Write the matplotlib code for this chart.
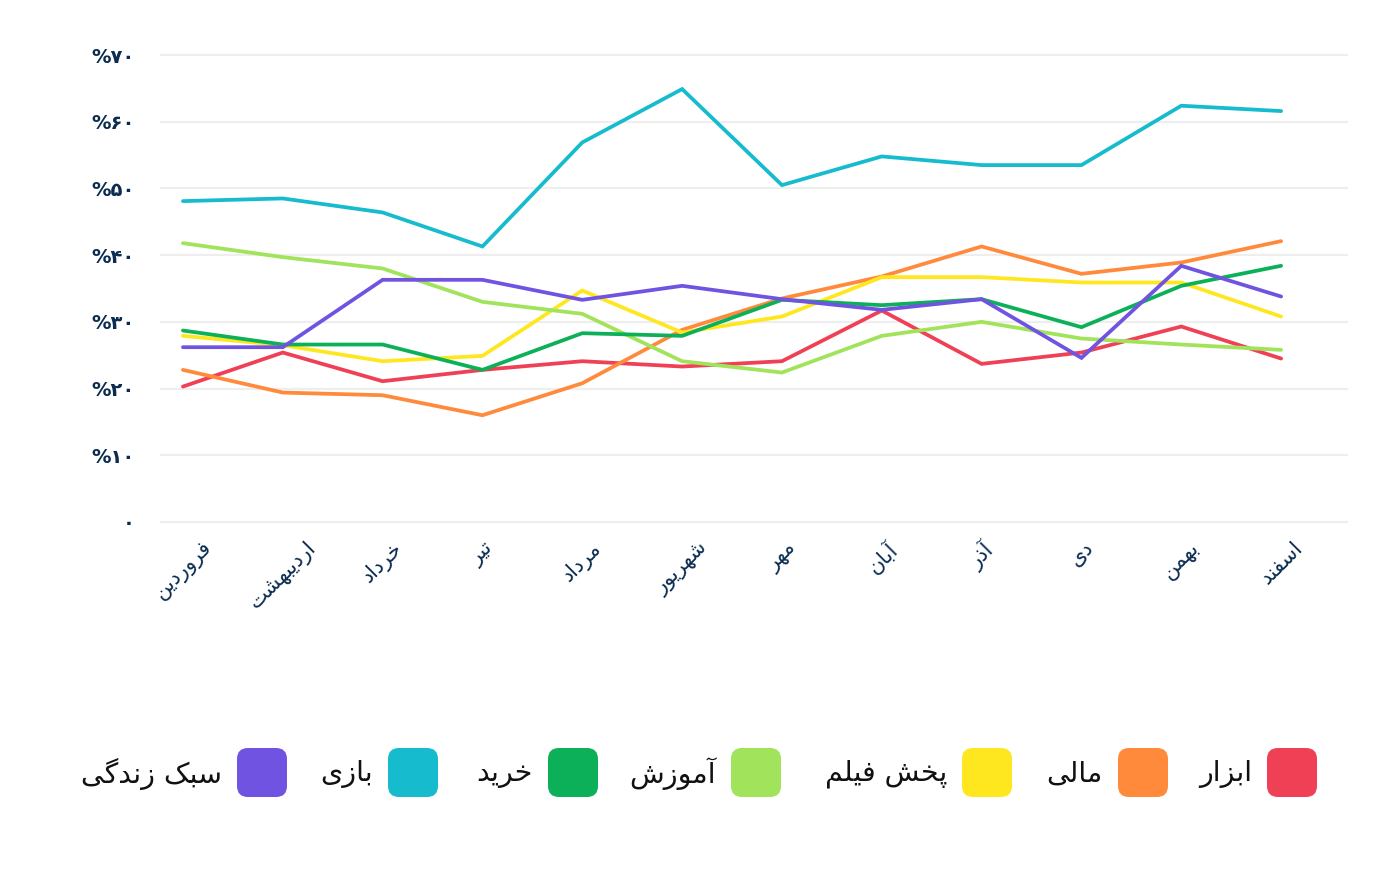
# %%
# =============================================================================
# Imports
# =============================================================================
import matplotlib
matplotlib.use("Agg")
import matplotlib.pyplot as plt
from matplotlib.patches import FancyBboxPatch

# %%
# =============================================================================
# Données
# =============================================================================
months = ['فروردین', 'اردیبهشت', 'خرداد', 'تیر', 'مرداد', 'شهریور',
          'مهر', 'آبان', 'آذر', 'دی', 'بهمن', 'اسفند']

y_ticks = [0, 10, 20, 30, 40, 50, 60, 70]
y_labels = ['۰', '%۱۰', '%۲۰', '%۳۰', '%۴۰', '%۵۰', '%۶۰', '%۷۰']

series_names = ['ابزار', 'مالی', 'پخش فیلم', 'آموزش', 'خرید', 'بازی', 'سبک زندگی']

abzar = [20.3, 25.4, 21.1, 22.8, 24.1, 23.3, 24.1, 31.7, 23.7, 25.4, 29.3, 24.5]
mali = [22.8, 19.4, 19.0, 16.0, 20.8, 28.8, 33.5, 36.8, 41.3, 37.2, 38.9, 42.1]
pakhsh_film = [27.9, 26.5, 24.1, 24.9, 34.7, 28.4, 30.8, 36.7, 36.7, 35.9, 35.9, 30.8]
amoozesh = [41.8, 39.7, 38.0, 33.0, 31.2, 24.1, 22.4, 27.9, 30.0, 27.5, 26.6, 25.8]
kharid = [28.7, 26.6, 26.6, 22.8, 28.3, 27.9, 33.3, 32.5, 33.4, 29.2, 35.4, 38.4]
bazi = [48.1, 48.5, 46.4, 41.3, 56.9, 64.9, 50.5, 54.8, 53.5, 53.5, 62.4, 61.6]
sabk_zendegi = [26.2, 26.2, 36.3, 36.3, 33.3, 35.4, 33.4, 31.8, 33.4, 24.6, 38.4, 33.8]

values = [abzar, mali, pakhsh_film, amoozesh, kharid, bazi, sabk_zendegi]
colors = ['#EF4056', '#FF8A3C', '#FFE71F', '#A1E35B', '#0CB058', '#16BBCE', '#7053E1']

# %%
# =============================================================================
# Mise en forme du texte persan (formes contextuelles + ordre droite-gauche)
# =============================================================================
FORMS = {
    'ا': ('\uFE8D', '\uFE8E'),
    'آ': ('\uFE81', '\uFE82'),
    'ب': ('\uFE8F', '\uFE90', '\uFE91', '\uFE92'),
    'پ': ('\uFB56', '\uFB57', '\uFB58', '\uFB59'),
    'ت': ('\uFE95', '\uFE96', '\uFE97', '\uFE98'),
    'خ': ('\uFEA5', '\uFEA6', '\uFEA7', '\uFEA8'),
    'د': ('\uFEA9', '\uFEAA'),
    'ذ': ('\uFEAB', '\uFEAC'),
    'ر': ('\uFEAD', '\uFEAE'),
    'ز': ('\uFEAF', '\uFEB0'),
    'س': ('\uFEB1', '\uFEB2', '\uFEB3', '\uFEB4'),
    'ش': ('\uFEB5', '\uFEB6', '\uFEB7', '\uFEB8'),
    'ف': ('\uFED1', '\uFED2', '\uFED3', '\uFED4'),
    'ک': ('\uFB8E', '\uFB8F', '\uFB90', '\uFB91'),
    'گ': ('\uFB92', '\uFB93', '\uFB94', '\uFB95'),
    'ل': ('\uFEDD', '\uFEDE', '\uFEDF', '\uFEE0'),
    'م': ('\uFEE1', '\uFEE2', '\uFEE3', '\uFEE4'),
    'ن': ('\uFEE5', '\uFEE6', '\uFEE7', '\uFEE8'),
    'ه': ('\uFEE9', '\uFEEA', '\uFEEB', '\uFEEC'),
    'و': ('\uFEED', '\uFEEE'),
    'ی': ('\uFBFC', '\uFBFD', '\uFBFE', '\uFBFF'),
}


def fa(text):
    out = []
    for i, ch in enumerate(text):
        if ch not in FORMS:
            out.append(ch)
            continue
        prev_join = i > 0 and len(FORMS.get(text[i - 1], ())) == 4
        next_join = (len(FORMS[ch]) == 4 and i + 1 < len(text)
                     and text[i + 1] in FORMS)
        f = FORMS[ch]
        if prev_join and next_join:
            out.append(f[3])
        elif prev_join:
            out.append(f[1])
        elif next_join:
            out.append(f[2])
        else:
            out.append(f[0])
    return ''.join(reversed(out))


# %%
# =============================================================================
# Graphique
# =============================================================================
plt.rcParams['font.family'] = ['DejaVu Sans']
navy = '#0B2C4F'

fig = plt.figure(figsize=(14, 8.92), dpi=100)
W, H = 1400, 892
# zone du tracé : 160..1348 px en x, 0 -> y=522 px, 70 -> y=55 px
ax = fig.add_axes([160 / W, (892 - 525.3) / H, 1188 / W, 473.6 / H])

x = list(range(len(months)))
for vals, c in zip(values, colors):
    ax.plot(x, vals, color=c, linewidth=2.7, solid_capstyle='round',
            solid_joinstyle='miter')

ax.set_xlim(-0.23, 11.67)
ax.set_ylim(-0.5, 70.5)
ax.set_yticks(y_ticks, y_labels)
ax.set_xticks(x, [fa(m) for m in months])
ax.yaxis.grid(True, color='#EEEEEE', linewidth=1.6)
ax.set_axisbelow(True)
for s in ax.spines.values():
    s.set_visible(False)
ax.tick_params(axis='y', length=0, pad=18, labelsize=14, labelcolor=navy)
ax.tick_params(axis='x', length=0, pad=9, labelsize=15, labelcolor=navy)
for lab in ax.get_yticklabels():
    lab.set_fontweight('bold')
for lab in ax.get_xticklabels():
    lab.set_rotation(45)
    lab.set_ha('center')

# %%
# =============================================================================
# Légende (de droite à gauche)
# =============================================================================
lax = fig.add_axes([0, 0, 1, 1])
lax.set_xlim(0, W)
lax.set_ylim(H, 0)
lax.axis('off')

box_left = [1267, 1118, 962, 731, 548, 388, 237]
for name, c, bx in zip(series_names, colors, box_left):
    lax.add_patch(FancyBboxPatch((bx, 748), 50, 49,
                                 boxstyle='round,pad=0,rounding_size=11',
                                 facecolor=c, edgecolor='none'))
    lax.text(bx - 15, 774, fa(name), ha='right', va='center',
             fontsize=20.5, color='#111111')

fig.savefig('out.png', dpi=100)
